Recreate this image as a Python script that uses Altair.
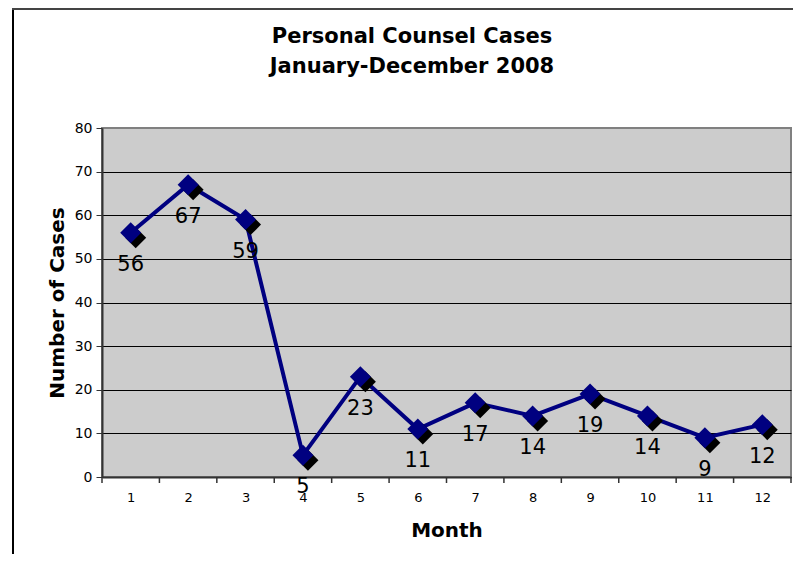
import altair as alt
import pandas as pd

months = [1, 2, 3, 4, 5, 6, 7, 8, 9, 10, 11, 12]
cases = [56, 67, 59, 5, 23, 11, 17, 14, 19, 14, 9, 12]
y_ticks = [0, 10, 20, 30, 40, 50, 60, 70, 80]
title_lines = ["Personal Counsel Cases", "January-December 2008"]

df = pd.DataFrame({"Month": months, "Cases": cases})
bounds = pd.DataFrame({"b": [m - 0.5 for m in months] + [months[-1] + 0.5]})

FONT = "DejaVu Sans"
NAVY = "#000080"
W, H = 689, 349

xs = alt.Scale(domain=[0.5, 12.5], nice=False, zero=False)
ys = alt.Scale(domain=[0, 80], nice=False)

x_enc = alt.X("Month:Q", scale=xs, axis=alt.Axis(
    values=months, format="d", tickSize=0, grid=False, labelFontSize=13, labelFont=FONT,
    labelColor="black", labelPadding=14, domainColor="#333333", domainWidth=2,
    title="Month", titleFont=FONT, titleFontSize=20, titleFontWeight="bold",
    titleColor="black", titlePadding=16, labelFlush=False))
y_enc = alt.Y("Cases:Q", scale=ys, axis=alt.Axis(
    values=y_ticks, format="d", tickSize=6, tickColor="#333333", domainColor="#333333",
    domainWidth=2, grid=True,
    gridColor={"condition": {"test": "datum.value === 80", "value": "#808080"}, "value": "#000000"},
    gridWidth=1, labelFontSize=14, labelFont=FONT, labelColor="black", labelPadding=4,
    title="Number of Cases", titleFont=FONT, titleFontSize=20, titleFontWeight="bold",
    titleColor="black", titlePadding=7))

base = alt.Chart(df)

line = base.mark_line(color=NAVY, strokeWidth=4).encode(x=x_enc, y=y_enc)
shadow = base.mark_point(shape="diamond", filled=True, size=440, color="black",
                         opacity=1, xOffset=5, yOffset=5).encode(x="Month:Q", y="Cases:Q")
pts = base.mark_point(shape="diamond", filled=True, size=440, color=NAVY,
                      opacity=1).encode(x="Month:Q", y="Cases:Q")
labels = base.mark_text(font=FONT, fontSize=21, color="black", dy=32,
                        baseline="middle").encode(x="Month:Q", y="Cases:Q", text="Cases:Q")

ticks = alt.Chart(bounds).mark_rule(color="#333333", strokeWidth=1.5).encode(
    x="b:Q", y=alt.value(H), y2=alt.value(H + 6))

one = bounds.head(1)
frame_left = alt.Chart(one).mark_rule(color="black", strokeWidth=2).encode(
    x=alt.value(-89), y=alt.value(-119), y2=alt.value(H + 140))
frame_top = alt.Chart(one).mark_rule(color="#444444", strokeWidth=2).encode(
    x=alt.value(-90), x2=alt.value(W + 20), y=alt.value(-119))

t1 = alt.Chart(one).mark_text(text=title_lines[0], font=FONT, fontSize=21,
                              fontWeight="bold", color="black", baseline="middle",
                              align="center").encode(x=alt.value(310), y=alt.value(-91))
t2 = alt.Chart(one).mark_text(text=title_lines[1], font=FONT, fontSize=21,
                              fontWeight="bold", color="black", baseline="middle",
                              align="center").encode(x=alt.value(310), y=alt.value(-61))

chart = alt.layer(line, shadow, pts, labels, ticks, frame_left, frame_top, t1, t2).properties(
    width=W, height=H,
    autosize=alt.AutoSizeParams(type="none"),
    padding={"left": 94, "top": 120, "right": 2, "bottom": 77},
).configure_view(fill="#CCCCCC", stroke="#808080", strokeWidth=2)

chart.save("out.html", embed_options={"renderer": "svg", "actions": False})
